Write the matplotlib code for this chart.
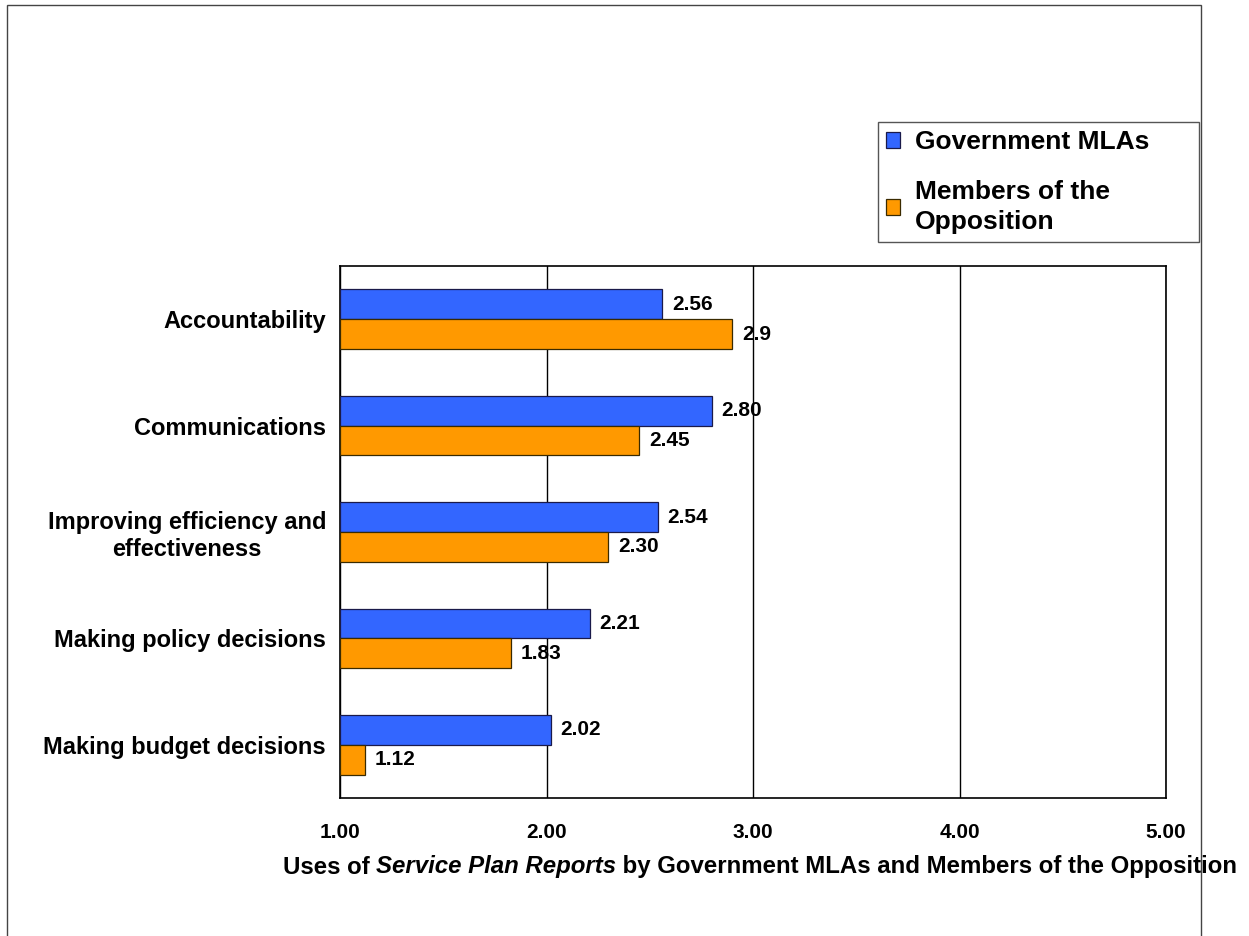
import matplotlib
matplotlib.use("Agg")
import matplotlib.pyplot as plt
import numpy as np
from matplotlib.patches import Rectangle
from matplotlib.offsetbox import TextArea, HPacker, AnchoredOffsetbox

plt.rcParams['font.family'] = ['Liberation Sans', 'DejaVu Sans']

# data
categories = ["Accountability", "Communications", "Improving efficiency and\neffectiveness",
              "Making policy decisions", "Making budget decisions"]
government = [2.56, 2.80, 2.54, 2.21, 2.02]
opposition = [2.90, 2.45, 2.30, 1.83, 1.12]
gov_labels = ["2.56", "2.80", "2.54", "2.21", "2.02"]
opp_labels = ["2.9", "2.45", "2.30", "1.83", "1.12"]
series_names = ["Government MLAs", "Members of the\nOpposition"]
xticks = [1, 2, 3, 4, 5]
xtick_labels = ["1.00", "2.00", "3.00", "4.00", "5.00"]

blue = "#3366FF"
orange = "#FF9900"

fig = plt.figure(figsize=(12.49, 9.36), dpi=100)
W, H = 1249, 936

# outer frame of the chart area (bottom runs off the image)
fig.patches.append(Rectangle((7 / W, -0.1), (1201 - 7) / W, 1.1 - 5 / H,
                             transform=fig.transFigure, fill=False,
                             edgecolor="#444444", linewidth=1.0))

ax = fig.add_axes([340 / W, 138 / H, (1166 - 340) / W, (798 - 266) / H])

y = np.arange(len(categories))
h = 0.28
base = 1.0
gov_w = [v - base for v in government]
opp_w = [v - base for v in opposition]
b1 = ax.barh(y - h / 2, gov_w, height=h, left=base, color=blue,
             edgecolor="#1a1a4a", linewidth=0.9, label=series_names[0], zorder=3)
b2 = ax.barh(y + h / 2, opp_w, height=h, left=base, color=orange,
             edgecolor="#3a2a00", linewidth=0.9, label=series_names[1], zorder=3)

for bars, labs in [(b1, gov_labels), (b2, opp_labels)]:
    for rect, lab in zip(bars, labs):
        ax.annotate(lab, (rect.get_x() + rect.get_width(), rect.get_y() + rect.get_height() / 2),
                    xytext=(7, 0), textcoords="offset points", va="center", ha="left",
                    fontsize=15, fontweight="bold", zorder=5)

ax.set_xlim(1, 5)
ax.set_ylim(len(categories) - 0.5, -0.5)
ax.set_xticks(xticks)
ax.set_xticklabels(xtick_labels, fontsize=15, fontweight="bold")
ax.set_yticks(y)
ax.set_yticklabels(categories, fontsize=17, fontweight="bold", multialignment="center")
ax.tick_params(axis="both", length=0)
ax.tick_params(axis="x", pad=18)
ax.tick_params(axis="y", pad=10)
ax.grid(axis="x", color="black", linewidth=1.0, zorder=0)
for s in ax.spines.values():
    s.set_color("black")
    s.set_linewidth(1.2)

# x-axis title with italic part
fs = 17.3
parts = [TextArea("Uses of ", textprops=dict(fontsize=fs, fontweight="bold")),
         TextArea("Service Plan Reports", textprops=dict(fontsize=fs, fontweight="bold", style="italic")),
         TextArea(" by Government MLAs and Members of the Opposition",
                  textprops=dict(fontsize=fs, fontweight="bold"))]
box = HPacker(children=parts, align="baseline", pad=0, sep=0)
anch = AnchoredOffsetbox(loc="center", child=box, frameon=False, pad=0, borderpad=0,
                         bbox_to_anchor=(760 / W, 1 - 867 / H), bbox_transform=fig.transFigure)
fig.add_artist(anch)

leg = fig.legend(handles=[b1, b2], labels=series_names, loc="upper left",
                 bbox_to_anchor=(878 / W, 1 - 122 / H, (1199 - 878) / W, 0),
                 mode="expand", fancybox=False, framealpha=1, edgecolor="#555555",
                 prop=dict(size=19, weight="bold"), handlelength=0.55, handleheight=0.55,
                 handletextpad=0.55, labelspacing=1.0, borderpad=0.3, borderaxespad=0)
leg.get_frame().set_linewidth(1.0)
for t in leg.get_texts():
    t.set_linespacing(1.3)

fig.savefig("out.png", dpi=100)
